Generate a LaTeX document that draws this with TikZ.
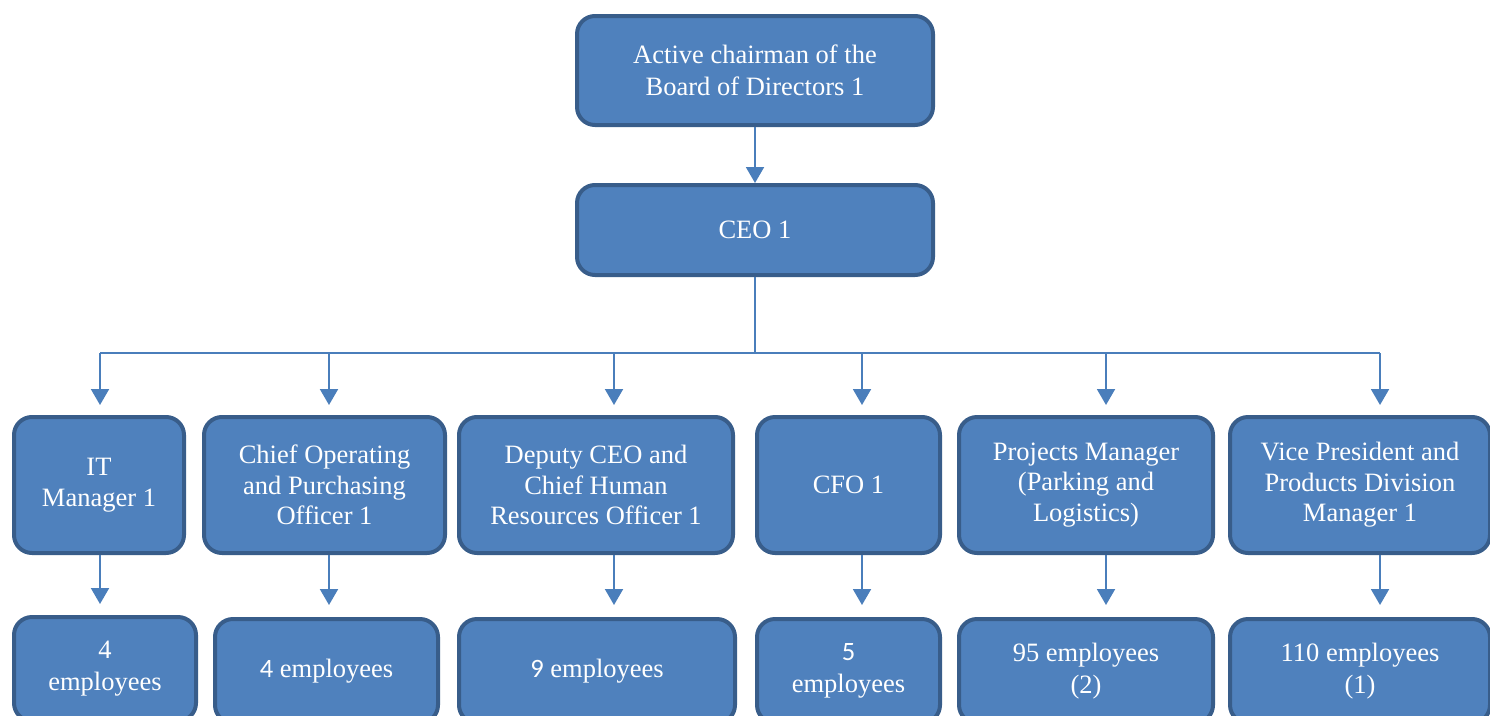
\documentclass[tikz,border=0pt]{standalone}
\usepackage{fontspec}
\setmainfont{Liberation Serif}
\newfontfamily\digitfont{Carlito}
\usetikzlibrary{arrows.meta,positioning}
\definecolor{boxfill}{HTML}{4F81BD}
\definecolor{boxline}{HTML}{385D8A}
\definecolor{linkblue}{HTML}{4A7EBB}

\begin{document}
\begin{tikzpicture}[x=1pt, y=-1pt,
    unit/.style={draw=boxline, fill=boxfill, line width=4pt, rounded corners=18pt, align=center, text=white, inner sep=2pt, font=\fontsize{26.5}{30.5}\selectfont},
    head/.style={unit, minimum width=356pt, font=\fontsize{26.5}{32}\selectfont},
    manager/.style={unit, minimum height=136pt},
    staff/.style={unit, minimum height=104pt, font=\fontsize{26.5}{32}\selectfont},
    arrow/.style={-{Triangle[length=16pt,width=18pt]}, draw=linkblue, line width=2pt},
    link/.style={draw=linkblue, line width=2pt}
]
\useasboundingbox (0,0) rectangle (1490,715);

% Top of the chart
\node[head, minimum height=109pt] (chair) at (755,70.5) {Active chairman of the\\Board of Directors 1};
\node[head, minimum height=90pt] (ceo) at (755,230) {CEO 1};

% Managers
\node[manager, minimum width=170pt] (it) at (99,485) {IT\\Manager 1};
\node[manager, minimum width=241pt] (coo) at (324.5,485) {Chief Operating\\and Purchasing\\Officer 1};
\node[manager, minimum width=274pt] (deputy) at (596,485) {Deputy CEO and\\Chief Human\\Resources Officer 1};
\node[manager, minimum width=183pt] (cfo) at (848.5,485) {CFO 1};
\node[manager, minimum width=254pt] (projects) at (1086,485) {Projects Manager\\(Parking and\\Logistics)};
\node[manager, minimum width=260pt] (vp) at (1360,485) {Vice President and\\Products Division\\Manager 1};

% Employees
\node[staff, minimum width=182pt] (itstaff) at (105,669) {4\\employees};
\node[staff, minimum width=223pt] (coostaff) at (326.5,671) {{\digitfont 4} employees};
\node[staff, minimum width=276pt] (deputystaff) at (597,671) {{\digitfont 9} employees};
\node[staff, minimum width=183pt] (cfostaff) at (848.5,671) {{\digitfont 5}\\employees};
\node[staff, minimum width=254pt] (projectsstaff) at (1086,671) {95 employees\\(2)};
\node[staff, minimum width=260pt] (vpstaff) at (1360,671) {110 employees\\(1)};

% Bus under the CEO
\coordinate (b1) at (100,353);
\coordinate (b2) at (329,353);
\coordinate (b3) at (614,353);
\coordinate (b4) at (862,353);
\coordinate (b5) at (1106,353);
\coordinate (b6) at (1380,353);

\draw[arrow] (chair) -- (ceo);
\draw[link] (ceo.south) -- (ceo.south |- b1);
\draw[link] (b1) -- (b6);

% Bus to managers
\draw[arrow, shorten >=10pt] (b1) -- (it.north -| b1);
\draw[arrow, shorten >=10pt] (b2) -- (coo.north -| b2);
\draw[arrow, shorten >=10pt] (b3) -- (deputy.north -| b3);
\draw[arrow, shorten >=10pt] (b4) -- (cfo.north -| b4);
\draw[arrow, shorten >=10pt] (b5) -- (projects.north -| b5);
\draw[arrow, shorten >=10pt] (b6) -- (vp.north -| b6);

% Managers to employees
\draw[arrow, shorten >=11pt] (it.south -| b1) -- (itstaff.north -| b1);
\draw[arrow, shorten >=12pt] (coo.south -| b2) -- (coostaff.north -| b2);
\draw[arrow, shorten >=12pt] (deputy.south -| b3) -- (deputystaff.north -| b3);
\draw[arrow, shorten >=12pt] (cfo.south -| b4) -- (cfostaff.north -| b4);
\draw[arrow, shorten >=12pt] (projects.south -| b5) -- (projectsstaff.north -| b5);
\draw[arrow, shorten >=12pt] (vp.south -| b6) -- (vpstaff.north -| b6);

\end{tikzpicture}
\end{document}
